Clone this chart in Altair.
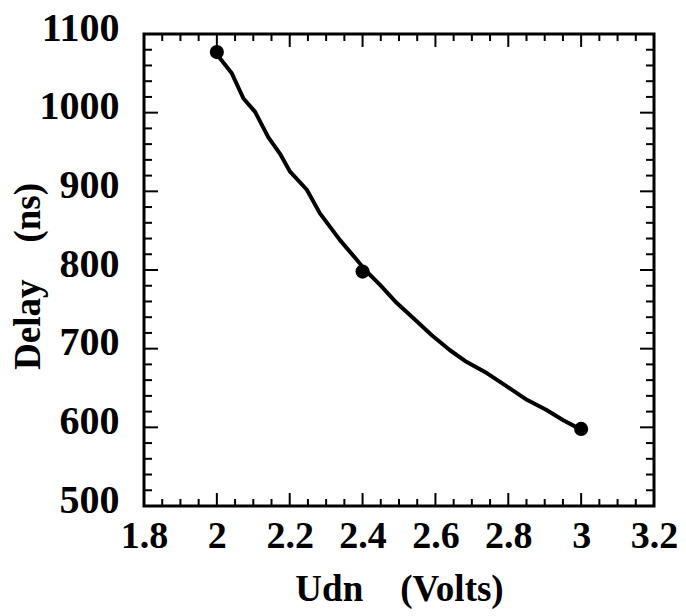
import altair as alt
import pandas as pd

# Measured points (markers)
pt_x = [2.0, 2.4, 3.0]
pt_y = [1077, 798, 598]

# Fitted curve
curve_x = [1.995, 2.041, 2.073, 2.105, 2.141, 2.173, 2.201, 2.247, 2.283, 2.338,
           2.384, 2.407, 2.448, 2.494, 2.539, 2.590, 2.640, 2.686, 2.741, 2.796,
           2.851, 2.905, 2.951, 2.992]
curve_y = [1077, 1050, 1018, 1001, 969, 948, 925, 902, 872, 838,
           813, 800, 781, 758, 739, 717, 698, 683, 669, 652,
           635, 622, 609, 599]

# Axis ticks
x_major = [1.8, 2.0, 2.2, 2.4, 2.6, 2.8, 3.0, 3.2]
x_minor = [round(1.8 + 0.05 * i, 2) for i in range(29) if i % 4 != 0]
y_major = [500, 600, 700, 800, 900, 1000, 1100]
y_minor = [500 + 20 * i for i in range(31) if i % 5 != 0]

W, H = 510, 472
FONT = "Liberation Serif"

xs = alt.Scale(domain=[1.8, 3.2], nice=False, zero=False)
ys = alt.Scale(domain=[500, 1100], nice=False, zero=False)

x_axis = alt.Axis(title="Udn\u00a0\u00a0\u00a0\u00a0(Volts)", values=x_major,
                  format="~g", ticks=False, domain=False, grid=False,
                  labelFont=FONT, labelFontSize=38, labelFontWeight="bold",
                  labelColor="black", labelPadding=11, labelFlush=False,
                  titleFont=FONT, titleFontSize=37, titleFontWeight="bold",
                  titleColor="black", titlePadding=16)
y_axis = alt.Axis(title="Delay\u00a0\u00a0\u00a0\u00a0(ns)", values=y_major,
                  format="d", ticks=False, domain=False, grid=False,
                  labelFont=FONT, labelFontSize=40, labelFontWeight="bold",
                  labelColor="black", labelPadding=25, labelOffset=-6,
                  labelFlush=False,
                  titleFont=FONT, titleFontSize=37, titleFontWeight="bold",
                  titleColor="black", titleX=-116, titleY=242,
                  titleBaseline="middle", titleAlign="center", titleAngle=270)

X = lambda: alt.X("Udn:Q", scale=xs, axis=x_axis)
Y = lambda: alt.Y("Delay:Q", scale=ys, axis=y_axis)

curve = pd.DataFrame({"Udn": curve_x, "Delay": curve_y})
pts = pd.DataFrame({"Udn": pt_x, "Delay": pt_y})

line = alt.Chart(curve).mark_line(color="black", strokeWidth=4,
                                  strokeCap="round", strokeJoin="round").encode(x=X(), y=Y())

dots = alt.Chart(pts).mark_circle(color="black", opacity=1, size=200).encode(x=X(), y=Y())


def xticks(vals, length):
    df = pd.DataFrame({"Udn": vals})
    bottom = alt.Chart(df).mark_rule(color="black", strokeWidth=2).encode(
        x=X(), y=alt.value(H), y2=alt.value(H - length))
    top = alt.Chart(df).mark_rule(color="black", strokeWidth=2).encode(
        x=X(), y=alt.value(0), y2=alt.value(length))
    return [bottom, top]


def yticks(vals, length):
    df = pd.DataFrame({"Delay": vals})
    left = alt.Chart(df).mark_rule(color="black", strokeWidth=2).encode(
        y=Y(), x=alt.value(0), x2=alt.value(length))
    right = alt.Chart(df).mark_rule(color="black", strokeWidth=2).encode(
        y=Y(), x=alt.value(W), x2=alt.value(W - length))
    return [left, right]


layers = [line, dots] + xticks(x_major, 13) + xticks(x_minor, 7) + yticks(y_major, 14) + yticks(y_minor, 8)

chart = alt.layer(*layers).properties(
    width=W, height=H,
    autosize=alt.AutoSizeParams(type="none"),
    padding={"left": 144, "top": 34, "right": 32, "bottom": 110},
    background="white",
).configure_view(stroke="black", strokeWidth=3)

chart.save("out.html", embed_options={"renderer": "svg", "actions": False})
